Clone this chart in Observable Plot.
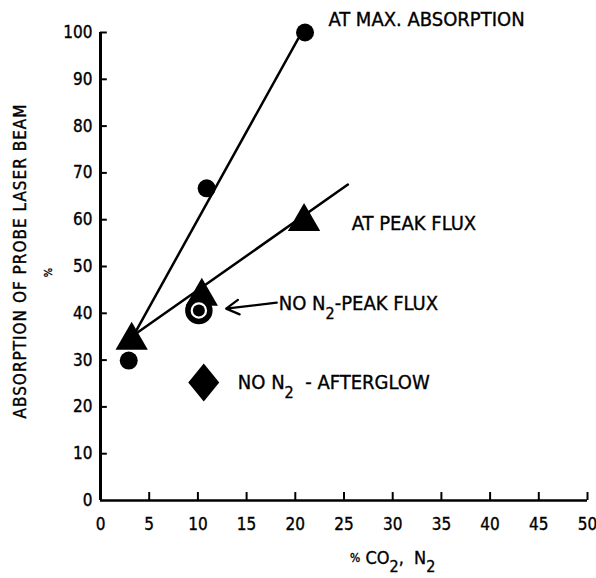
<!DOCTYPE html>
<html><head><meta charset="utf-8">
<script src="https://cdn.jsdelivr.net/npm/d3@7"></script>
<script src="https://cdn.jsdelivr.net/npm/@observablehq/plot@0.6"></script>
<style>
body{margin:0;background:#fff}
svg text{stroke:#000;stroke-width:0.35px}
.ylab text{letter-spacing:1px}
</style>
</head><body><div id="chart"></div>
<script>
// Tick values
const xTicks = [0, 5, 10, 15, 20, 25, 30, 35, 40, 45, 50];
const yTicks = [0, 10, 20, 30, 40, 50, 60, 70, 80, 90, 100];

// Series: at max. absorption (circles)
const maxAbsX = [2.9, 10.9, 21.0];
const maxAbsY = [29.9, 66.7, 100];
// Series: at peak flux (triangles)
const peakX = [3.2, 10.4, 20.9];
const peakY = [34.2, 43.6, 59.6];
// No N2 - peak flux (bullseye)
const noN2PeakX = [10.1];
const noN2PeakY = [40.6];
// No N2 - afterglow (diamond)
const noN2AfterX = [10.6];
const noN2AfterY = [25.2];

// Fitted lines
const maxAbsLineX = [3.4, 20.3];
const maxAbsLineY = [35.3, 98.7];
const peakLineX = [3.4, 25.4];
const peakLineY = [35.3, 67.5];

// Annotations (segments: [text, isSubscript])
const labelSegs = [
  [["AT MAX. ABSORPTION", false]],
  [["AT PEAK FLUX", false]],
  [["NO N", false], ["2", true], ["-PEAK FLUX", false]],
  [["NO N", false], ["2", true], ["  - AFTERGLOW", false]]
];
const labelX = [23.4, 25.8, 18.3, 14.1];
const labelY = [101.3, 57.9, 40.6, 23.9];
const arrowX1 = [18.1], arrowY1 = [42.3], arrowX2 = [12.9], arrowY2 = [41.0];

const xLabelSegs = [["%", "pct"], [" CO", false], ["2", true], [",  N", false], ["2", true]];
const xLabelX = 30;
const yLabelText = "ABSORPTION OF PROBE LASER BEAM";

const FONT = "'DejaVu Sans Condensed', 'DejaVu Sans', sans-serif";

const zip = (xs, ys) => xs.map((x, i) => ({x, y: ys[i]}));

const ctx = document.createElement("canvas").getContext("2d");
function measure(t, size) {
  ctx.font = `${size}px ${FONT}`;
  return ctx.measureText(t).width;
}

// build text marks for a run of segments, baseline at (x,y)
function richText(segs, x, y, {size, subSize, subDy, pctSize = size, anchor = "start", frameAnchor} = {}) {
  const sz = s => s[1] === true ? subSize : s[1] === "pct" ? pctSize : size;
  const widths = segs.map(s => measure(s[0], sz(s)));
  const total = d3.sum(widths);
  let off = anchor === "middle" ? -total / 2 : 0;
  const marks = [];
  segs.forEach((s, i) => {
    const opts = {
      text: d => d.t, textAnchor: "start", lineAnchor: "bottom",
      fontSize: sz(s), fill: "#000", dx: off,
      dy: s[1] === true ? subDy : s[1] === "pct" ? -2 : 0
    };
    if (frameAnchor) {
      marks.push(Plot.text([{t: s[0], x}], {...opts, x: "x", frameAnchor, dy: opts.dy + 63}));
    } else {
      marks.push(Plot.text([{t: s[0], x, y}], {...opts, x: "x", y: "y"}));
    }
    off += widths[i];
  });
  return marks;
}

const diamond = {
  draw(context, size) {
    const r = Math.sqrt(size / Math.PI);
    const a = r * 1.55, b = r * 1.9;
    context.moveTo(0, -b);
    context.lineTo(a, 0);
    context.lineTo(0, b);
    context.lineTo(-a, 0);
    context.closePath();
  }
};

const annotationMarks = labelSegs.flatMap((segs, i) =>
  richText(segs, labelX[i], labelY[i], {size: 20, subSize: 16, subDy: 9}));

const chart = Plot.plot({
  width: 596,
  height: 578,
  marginLeft: 100,
  marginRight: 9,
  marginTop: 32,
  marginBottom: 78,
  style: {fontFamily: FONT, fontSize: "17px", color: "#000", background: "#fff"},
  x: {domain: [0, 50]},
  y: {domain: [0, 100]},
  marks: [
    Plot.axisX({ticks: xTicks, tickSize: 0, tickPadding: 17, fontSize: 17, tickFormat: d => String(d), label: null}),
    Plot.axisY({ticks: yTicks, tickSize: 0, tickPadding: 8, fontSize: 17, tickFormat: d => String(d), label: null}),
    Plot.ruleY([0], {stroke: "#000", strokeWidth: 2.5}),
    Plot.ruleX([0], {stroke: "#000", strokeWidth: 3}),
    Plot.ruleX(xTicks.slice(1), {x: d => d, y1: 0, y2: 1.7, stroke: "#000", strokeWidth: 2}),
    Plot.ruleY(yTicks.slice(1), {y: d => d, x1: 0, x2: 0.7, stroke: "#000", strokeWidth: 2}),
    Plot.line(zip(maxAbsLineX, maxAbsLineY), {x: "x", y: "y", stroke: "#000", strokeWidth: 2.5}),
    Plot.line(zip(peakLineX, peakLineY), {x: "x", y: "y", stroke: "#000", strokeWidth: 2.5}),
    Plot.dot(zip(maxAbsX, maxAbsY), {x: "x", y: "y", r: 9, fill: "#000", stroke: null}),
    Plot.dot(zip(peakX, peakY), {x: "x", y: "y", r: 12, symbol: "triangle", fill: "#000", stroke: null}),
    Plot.dot(zip(noN2PeakX, noN2PeakY), {x: "x", y: "y", r: 11, fill: "#fff", stroke: "#000", strokeWidth: 5.5}),
    Plot.dot(zip(noN2PeakX, noN2PeakY), {x: "x", y: "y", r: 6, fill: "#000", stroke: null}),
    Plot.dot(zip(noN2AfterX, noN2AfterY), {x: "x", y: "y", r: 10, symbol: diamond, fill: "#000", stroke: null}),
    Plot.arrow(arrowX1.map((x, i) => ({x1: x, y1: arrowY1[i], x2: arrowX2[i], y2: arrowY2[i]})),
      {x1: "x1", y1: "y1", x2: "x2", y2: "y2", stroke: "#000", strokeWidth: 2.2, headLength: 10}),
    ...annotationMarks,
    Plot.text([yLabelText], {frameAnchor: "left", textAnchor: "middle", lineAnchor: "middle", rotate: -90, dx: -80, dy: -5.5, fontSize: 17, fill: "#000", text: d => d, className: "ylab"}),
    Plot.text(["%"], {frameAnchor: "left", textAnchor: "middle", lineAnchor: "middle", rotate: -90, dx: -52, dy: 6, fontSize: 11, fill: "#000", text: d => d}),
    ...richText(xLabelSegs, xLabelX, null, {size: 18, subSize: 16, subDy: 8, pctSize: 12, anchor: "middle", frameAnchor: "bottom"})
  ]
});
document.getElementById("chart").appendChild(chart);
</script>
</body></html>
